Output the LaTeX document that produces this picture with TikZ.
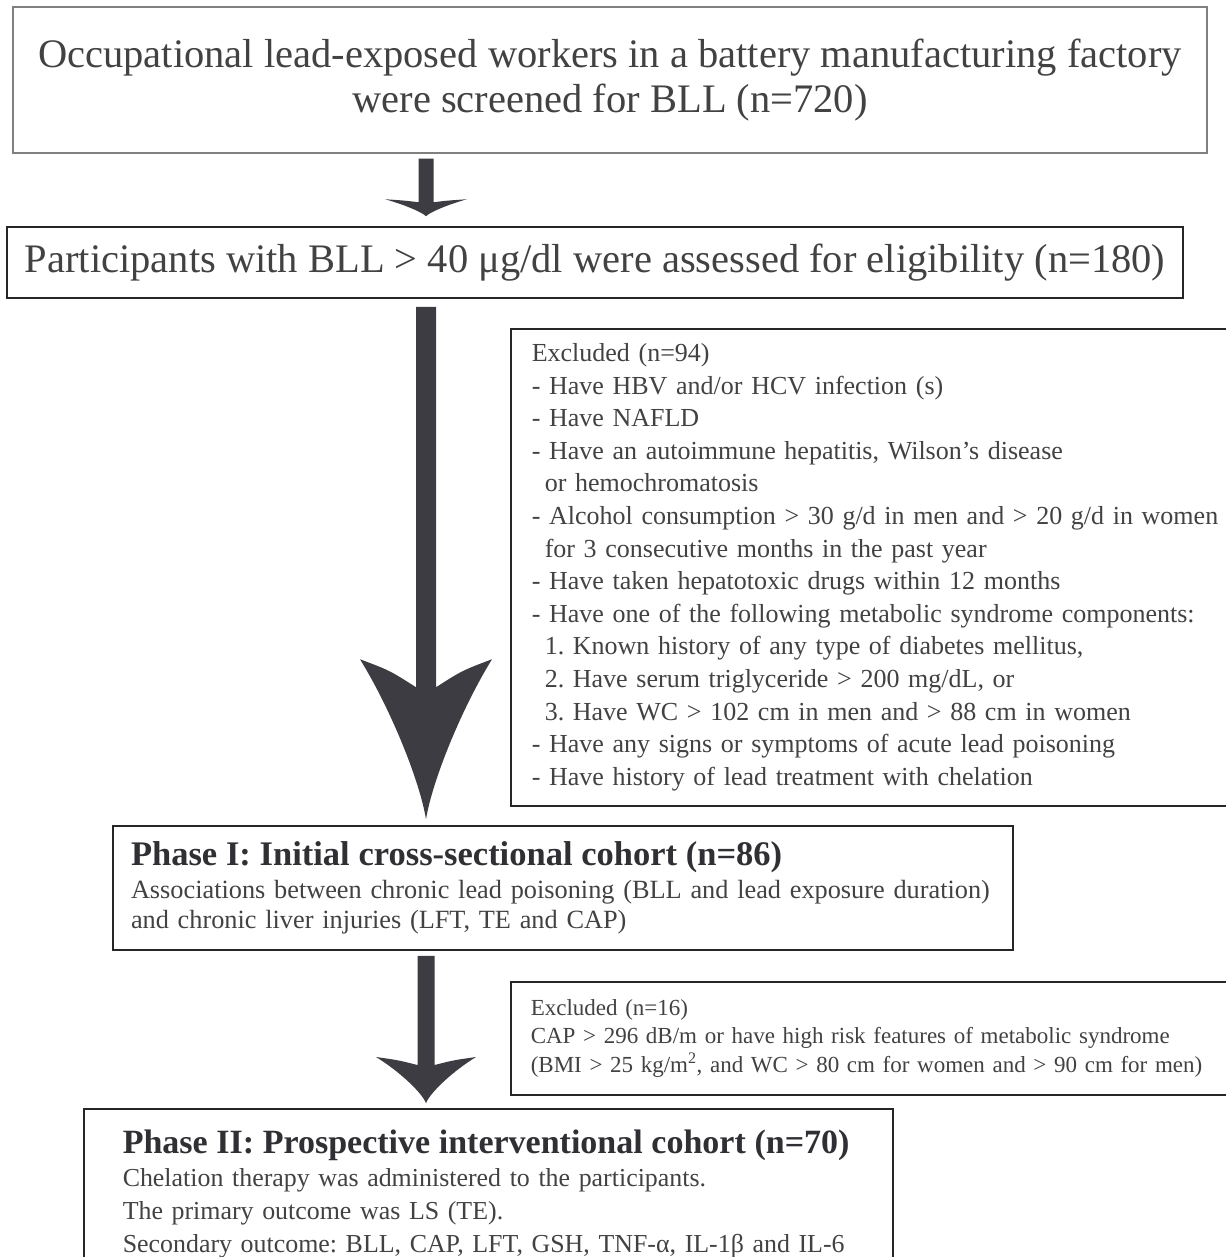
\documentclass[tikz,border=0pt]{standalone}
\usepackage{fontspec}
\setmainfont{Liberation Serif}
\usetikzlibrary{calc}

\definecolor{inkgray}{RGB}{66,66,66}
\definecolor{headgray}{RGB}{48,48,52}
\definecolor{arrowgray}{RGB}{61,60,66}

% from, to, half shaft, half wing, barb depth, neck depth
\newcommand{\fatarrow}[6]{%
  \fill[arrowgray] ($(#1)+(-#3,0)$) -- ($(#2)+(-#3,-#6)$)
    .. controls ($(#2)+(-0.55*#4,-#6-0.6*#5+0.6*#6)$) .. ($(#2)+(-#4,-#5)$)
    .. controls ($(#2)+(-0.55*#4,-0.7*#5)$) and ($(#2)+(-0.1*#4,-0.25*#5)$) .. (#2)
    .. controls ($(#2)+(0.1*#4,-0.25*#5)$) and ($(#2)+(0.55*#4,-0.7*#5)$) .. ($(#2)+(#4,-#5)$)
    .. controls ($(#2)+(0.55*#4,-#6-0.6*#5+0.6*#6)$) .. ($(#2)+(#3,-#6)$)
    -- ($(#1)+(#3,0)$) -- cycle;}

\begin{document}
\frenchspacing
\begin{tikzpicture}[x=1pt,y=-1pt,
    box/.style={draw=black!85,line width=1.5pt,text=inkgray,inner sep=0pt},
    bigtext/.style={font=\fontsize{40.5}{45}\selectfont,align=center},
    listtext/.style={font=\fontsize{26}{32.6}\selectfont,align=left}]
    \fill[white] (0,0) rectangle (1225,1257);
    \useasboundingbox (0,0) rectangle (1225,1257);

    \node[box,bigtext,draw=black!50,line width=1.3pt,minimum width=1194pt,minimum height=146pt]
        (screen) at (610,80) {Occupational lead-exposed workers in a battery manufacturing factory\\
        were screened for BLL (n=720)};
    \node[box,bigtext,minimum width=1176pt,minimum height=71pt]
        (elig) at (595,262.5) {Participants with BLL > 40 μg/dl were assessed for eligibility (n=180)};

    \node[box,listtext,anchor=north west,text width=740pt,inner xsep=21pt,minimum height=477pt]
        (excl1) at (510,328) {Excluded (n=94)\\
        - Have HBV and/or HCV infection (s)\\
        - Have NAFLD\\
        - Have an autoimmune hepatitis, Wilson's disease\\
        \hspace*{13pt}or hemochromatosis\\
        - Alcohol consumption > 30 g/d in men and > 20 g/d in women\\
        \hspace*{13pt}for 3 consecutive months in the past year\\
        - Have taken hepatotoxic drugs within 12 months\\
        - Have one of the following metabolic syndrome components:\\
        \hspace*{13pt}1. Known history of any type of diabetes mellitus,\\
        \hspace*{13pt}2. Have serum triglyceride > 200 mg/dL, or\\
        \hspace*{13pt}3. Have WC > 102 cm in men and > 88 cm in women\\
        - Have any signs or symptoms of acute lead poisoning\\
        - Have history of lead treatment with chelation};

    \node[box,align=left,font=\fontsize{26.3}{30}\selectfont,text width=864pt,inner xsep=18pt,minimum height=124pt]
        (phase1) at (563,888) {\mbox{\color{headgray}\fontsize{34.5}{30}\selectfont\bfseries Phase I: Initial cross-sectional cohort (n=86)}\\[3pt]
        \mbox{Associations between chronic lead poisoning (BLL and lead exposure duration)}\\
        and chronic liver injuries (LFT, TE and CAP)};

    \node[box,align=left,font=\fontsize{23}{28.5}\selectfont,anchor=north west,text width=740pt,inner xsep=20pt,minimum height=113pt]
        (excl2) at (510,981) {Excluded (n=16)\\
        CAP > 296 dB/m or have high risk features of metabolic syndrome\\
        (BMI > 25 kg/m\textsuperscript{2}, and WC > 80 cm for women and > 90 cm for men)};

    \node[box,align=left,font=\fontsize{25.9}{33}\selectfont,anchor=north west,text width=731pt,inner xsep=39pt,inner ysep=21pt]
        (phase2) at (83,1108) {\mbox{\color{headgray}\fontsize{34}{30}\selectfont\bfseries Phase II: Prospective interventional cohort (n=70)}\\
        Chelation therapy was administered to the participants.\\
        The primary outcome was LS (TE).\\
        \mbox{Secondary outcome: BLL, CAP, LFT, GSH, TNF-α, IL-1β and IL-6}};

    % arrows down the middle
    \coordinate (axis) at (426,0);
    \coordinate (a1) at ($(screen.south -| axis)+(0,5)$);
    \coordinate (b1) at ($(elig.north -| axis)+(0,-10)$);
    \coordinate (a2) at ($(elig.south -| axis)+(0,8)$);
    \coordinate (b2) at ($(phase1.north -| axis)+(0,-6)$);
    \coordinate (a3) at ($(phase1.south -| axis)+(0,5)$);
    \coordinate (b3) at ($(phase2.north -| axis)+(0,-5)$);
    \fatarrow{a1}{b1}{7.5}{41}{17}{14}
    \fatarrow{a2}{b2}{10}{66}{160}{132}
    \fatarrow{a3}{b3}{8.5}{50}{46}{38}
\end{tikzpicture}
\end{document}
